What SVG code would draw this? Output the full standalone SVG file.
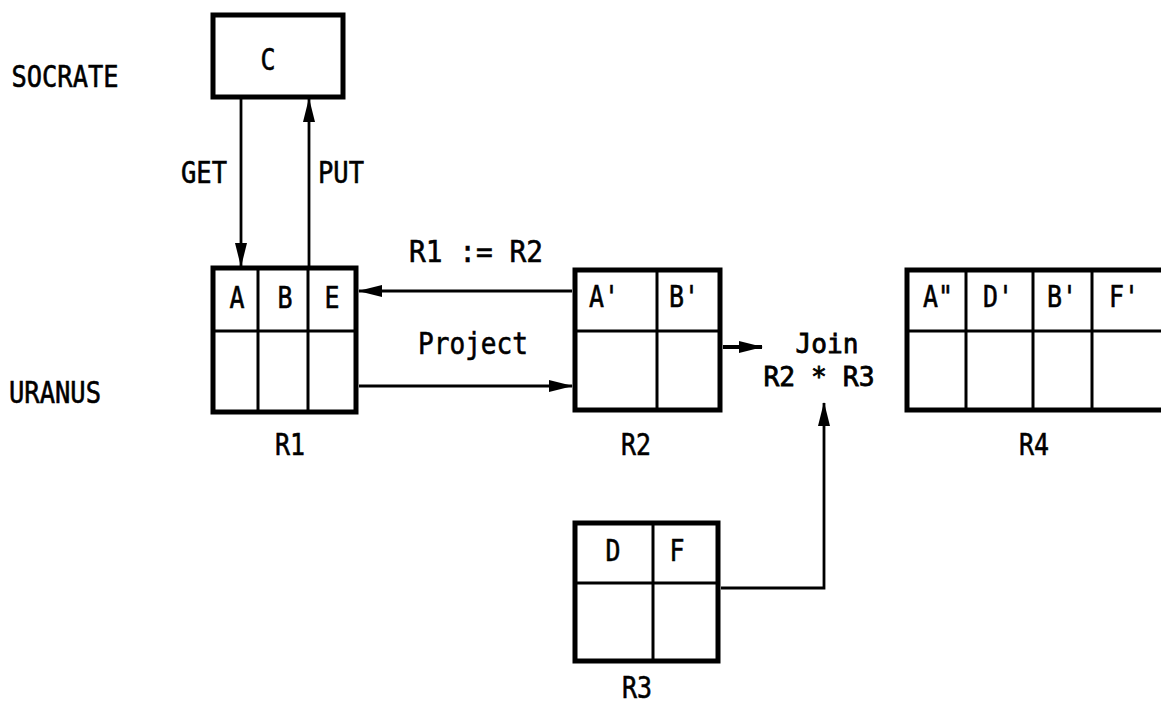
<svg xmlns="http://www.w3.org/2000/svg" width="1161" height="705" viewBox="0 0 1161 705">
<style>
text{font-family:"DejaVu Sans Mono","Liberation Mono",monospace;font-size:30px;fill:#000;stroke:#000;stroke-width:0.6;text-anchor:middle}
text.j{font-size:27px;stroke-width:0.8}
.outer{fill:#fff;stroke:#000;stroke-width:5}
.inner{stroke:#000;stroke-width:3;fill:none}
.conn{stroke:#000;stroke-width:2.8;fill:none}
</style>
<defs>
<marker id="arr" markerUnits="userSpaceOnUse" markerWidth="24" markerHeight="12" refX="23" refY="6" orient="auto">
<path d="M0,0 L24,6 L0,12 Z" fill="#000"/>
</marker>
</defs>
<rect width="1161" height="705" fill="#fff"/>
<g id="labels">
<text x="65" y="87" textLength="107" lengthAdjust="spacingAndGlyphs">SOCRATE</text>
<text x="55" y="403" textLength="92" lengthAdjust="spacingAndGlyphs">URANUS</text>
<text x="204" y="183" textLength="46" lengthAdjust="spacingAndGlyphs">GET</text>
<text x="341" y="183" textLength="46" lengthAdjust="spacingAndGlyphs">PUT</text>
<text x="476" y="262" textLength="134" lengthAdjust="spacingAndGlyphs">R1 := R2</text>
<text x="473" y="354" textLength="110" lengthAdjust="spacingAndGlyphs">Project</text>
<text class="j" x="827" y="353" textLength="63" lengthAdjust="spacingAndGlyphs">Join</text>
<text class="j" x="819" y="386" textLength="111" lengthAdjust="spacingAndGlyphs">R2 * R3</text>
</g>
<g id="C">
<rect class="outer" x="213" y="15" width="130" height="82"/>
<text x="268" y="70" textLength="15" lengthAdjust="spacingAndGlyphs">C</text>
</g>
<g id="R1">
<rect class="outer" x="213" y="268" width="143" height="144"/>
<line class="inner" x1="258" y1="268" x2="258" y2="412"/>
<line class="inner" x1="308" y1="268" x2="308" y2="412"/>
<line class="inner" x1="213" y1="331" x2="356" y2="331"/>
<text x="237" y="308" textLength="15" lengthAdjust="spacingAndGlyphs">A</text>
<text x="285" y="308" textLength="15" lengthAdjust="spacingAndGlyphs">B</text>
<text x="332" y="308" textLength="15" lengthAdjust="spacingAndGlyphs">E</text>
<text x="290" y="455" textLength="30" lengthAdjust="spacingAndGlyphs">R1</text>
</g>
<g id="R2">
<rect class="outer" x="575" y="270" width="145" height="140"/>
<line class="inner" x1="657" y1="270" x2="657" y2="410"/>
<line class="inner" x1="575" y1="331" x2="720" y2="331"/>
<text x="604" y="307" textLength="30" lengthAdjust="spacingAndGlyphs">A'</text>
<text x="684" y="307" textLength="30" lengthAdjust="spacingAndGlyphs">B'</text>
<text x="636" y="455" textLength="30" lengthAdjust="spacingAndGlyphs">R2</text>
</g>
<g id="R4">
<rect class="outer" x="907" y="270" width="265" height="140"/>
<line class="inner" x1="966" y1="270" x2="966" y2="410"/>
<line class="inner" x1="1033" y1="270" x2="1033" y2="410"/>
<line class="inner" x1="1092" y1="270" x2="1092" y2="410"/>
<line class="inner" x1="907" y1="331" x2="1161" y2="331"/>
<text x="938" y="307" textLength="30" lengthAdjust="spacingAndGlyphs">A"</text>
<text x="998" y="307" textLength="30" lengthAdjust="spacingAndGlyphs">D'</text>
<text x="1062" y="307" textLength="30" lengthAdjust="spacingAndGlyphs">B'</text>
<text x="1124" y="307" textLength="30" lengthAdjust="spacingAndGlyphs">F'</text>
<text x="1034" y="455" textLength="30" lengthAdjust="spacingAndGlyphs">R4</text>
</g>
<g id="R3">
<rect class="outer" x="575" y="523" width="143" height="138"/>
<line class="inner" x1="653" y1="523" x2="653" y2="661"/>
<line class="inner" x1="575" y1="583" x2="718" y2="583"/>
<text x="613" y="561" textLength="15" lengthAdjust="spacingAndGlyphs">D</text>
<text x="677" y="561" textLength="15" lengthAdjust="spacingAndGlyphs">F</text>
<text x="637" y="698" textLength="30" lengthAdjust="spacingAndGlyphs">R3</text>
</g>
<g id="connectors">
<line class="conn" x1="241" y1="99" x2="241" y2="266" marker-end="url(#arr)"/>
<line class="conn" x1="309" y1="266" x2="309" y2="99" marker-end="url(#arr)"/>
<line class="conn" x1="572" y1="291" x2="359" y2="291" marker-end="url(#arr)"/>
<line class="conn" x1="359" y1="386" x2="572" y2="386" marker-end="url(#arr)"/>
<line class="conn" x1="723" y1="347" x2="762" y2="347" marker-end="url(#arr)" style="stroke-width:4"/>
<path class="conn" d="M721,588 H824 V403" marker-end="url(#arr)"/>
</g>
</svg>
